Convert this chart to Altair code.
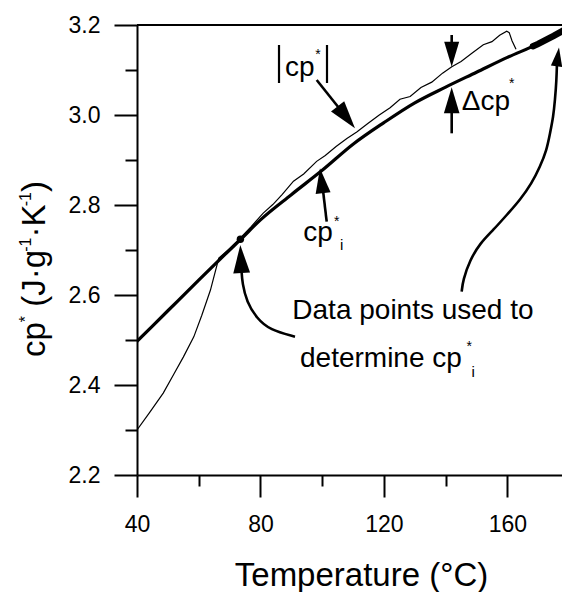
import altair as alt
import pandas as pd

FONT = "Liberation Sans"

# ---- data ----
# fitted / extrapolated cp*_i curve (thick)
fit_T = [40, 50, 60, 70, 73.5, 80, 90, 100, 110, 120, 130, 140, 150, 160, 170, 180]
fit_cp = [2.497, 2.565, 2.633, 2.700, 2.723, 2.767, 2.823, 2.877, 2.935, 2.983,
          3.027, 3.062, 3.095, 3.128, 3.158, 3.195]

# high-temperature data points used for the fit (heavier segment)
hi_T = [168.3, 170, 175, 180]
hi_cp = [3.153, 3.158, 3.176, 3.195]

# low-temperature data point used for the fit (dot)
dot_T = [73.5]
dot_cp = [2.724]

# measured |cp*| curve (thin)
meas_T = [40, 44, 48.5, 52, 55, 58.4, 61, 63.8, 66.5, 70, 73.5, 77, 80.9, 84, 87,
          90.7, 94, 98.2, 101, 104.5, 108, 111.2, 115, 118.5, 122, 125.2, 128.5,
          132, 135.5, 139, 142, 145, 148.5, 152.2, 155, 157.5, 159.8, 160.6,
          161.5, 162.8]
meas_cp = [2.300, 2.338, 2.382, 2.425, 2.462, 2.507, 2.555, 2.611, 2.682, 2.703,
           2.727, 2.752, 2.782, 2.801, 2.823, 2.853, 2.869, 2.897, 2.910, 2.930,
           2.948, 2.962, 2.982, 3.000, 3.016, 3.035, 3.041, 3.061, 3.073, 3.093,
           3.107, 3.119, 3.137, 3.156, 3.163, 3.177, 3.186, 3.183, 3.165, 3.146]

# arrow shafts (id, T, cp) in drawing order
arrow_id = (["A"] * 2 + ["B"] * 2 + ["C"] * 2 + ["D"] * 2 + ["E"] * 6 + ["F"] * 15)
arrow_T = [98.22, 105.77,
           101.46, 100.1,
           141.96, 141.96,
           141.96, 141.96,
           91.19, 83.09, 78.78, 75.54, 74.12, 73.86,
           145.20, 145.62, 147.89, 151.13, 155.44, 159.78, 164.09, 167.88,
           170.57, 172.74, 173.81, 174.88, 175.43, 175.92, 176.08]
arrow_cp = [3.0778, 3.0127,
            2.7629, 2.8422,
            3.1778, 3.1444,
            2.9593, 3.0222,
            2.5073, 2.5222, 2.5482, 2.5851, 2.626, 2.6556,
            2.6073, 2.6333, 2.6778, 2.7149, 2.7444, 2.7778, 2.8111, 2.8482,
            2.8851, 2.9222, 2.9593, 2.9962, 3.0333, 3.0778, 3.1178]

# arrow heads (tip position, direction in degrees clockwise from up, length px)
head_T = [110.63, 99.29, 141.96, 141.96, 73.47, 176.73]
head_cp = [2.9704, 2.8816, 3.1073, 3.0616, 2.7111, 3.15]
head_angle = [141.6, 352.9, 180, 0, 357.2, 7.4]
head_len = [28, 25, 25, 26, 28, 19]

# vertical bars of |cp*|
bar_T = [86.01, 101.56]
bar_cp_lo = [3.0711, 3.0711]
bar_cp_hi = [3.1556, 3.1556]

# annotation texts (left-aligned, alphabetic baseline)
txt_label = ["cp", "*", "cp", "*", "i", "\u0394cp", "*",
             "Data points used to", "determine cp", "*", "i"]
txt_T = [87.95, 97.77, 93.88, 103.83, 105.77, 145.2, 160.53,
         90.32, 92.81, 146.79, 148.41]
txt_cp = [3.0867, 3.1244, 2.72, 2.7527, 2.70, 3.0111, 3.06,
          2.546, 2.4407, 2.4749, 2.4178]
txt_size = [28, 14, 28, 14, 15, 28, 14, 28, 28, 14, 15]

x_major = [40, 80, 120, 160]
x_minor = [60, 100, 140]
y_major = [2.2, 2.4, 2.6, 2.8, 3.0, 3.2]
y_minor = [2.3, 2.5, 2.7, 2.9, 3.1]

# y-axis title pieces (text, superscript?)
ytitle_parts = [("cp", False), ("*", True), ("(J\u00b7g", False), ("-1", True),
                ("\u00b7K", False), ("-1", True), (")", False)]

# ---- tables ----
fit_df = pd.DataFrame({"T": fit_T, "cp": fit_cp})
hi_df = pd.DataFrame({"T": hi_T, "cp": hi_cp})
dot_df = pd.DataFrame({"T": dot_T, "cp": dot_cp})
meas_df = pd.DataFrame({"T": meas_T, "cp": meas_cp})
arrow_df = pd.DataFrame({"id": arrow_id, "T": arrow_T, "cp": arrow_cp})
arrow_df["ord"] = range(len(arrow_df))
head_df = pd.DataFrame({"T": head_T, "cp": head_cp, "angle": head_angle,
                        "size": [l * l for l in head_len]})
bar_df = pd.DataFrame({"T": bar_T, "cp": bar_cp_lo, "cp2": bar_cp_hi})
txt_df = pd.DataFrame({"T": txt_T, "cp": txt_cp, "label": txt_label, "fs": txt_size})
one_df = pd.DataFrame({"k": [0]})

W, H = 425, 450

xscale = alt.Scale(domain=[40, 177.7], nice=False, zero=False)
yscale = alt.Scale(domain=[2.2, 3.2], nice=False, zero=False)

common = dict(tickWidth=2, tickColor="black", domainColor="black", domainWidth=2,
              grid=False, labelFont=FONT, labelColor="black", labelFontSize=23,
              labelFlush=False, labelOverlap=False)

xaxis = alt.Axis(
    orient="bottom", values=x_major, tickSize=22, format="d",
    labelBaseline="alphabetic", labelPadding=34,
    title="Temperature (\u00b0C)", titleFont=FONT, titleFontSize=33,
    titleFontWeight="normal", titleColor="black",
    titleX=224, titleY=110, titleBaseline="alphabetic", titleAlign="center",
    **common)
yaxis = alt.Axis(
    orient="left", values=y_major, tickSize=23, format=".1f", labelPadding=14,
    title="", **common)
xaxis_minor = alt.Axis(orient="bottom", values=x_minor, tickSize=11, labels=False,
                       domain=False, title="", tickWidth=2, tickColor="black", grid=False)
yaxis_minor = alt.Axis(orient="left", values=y_minor, tickSize=12, labels=False,
                       domain=False, title="", tickWidth=2, tickColor="black", grid=False)

X = alt.X("T:Q", scale=xscale, axis=xaxis)
Y = alt.Y("cp:Q", scale=yscale, axis=yaxis)

fit = alt.Chart(fit_df).mark_line(color="black", strokeWidth=3.2, clip=True,
                                  interpolate="monotone").encode(x=X, y=Y)
hi = alt.Chart(hi_df).mark_line(color="black", strokeWidth=6.5, clip=True,
                                strokeCap="round").encode(x=X, y=Y)
dot = alt.Chart(dot_df).mark_point(filled=True, color="black", opacity=1,
                                   size=55).encode(x=X, y=Y)
meas = alt.Chart(meas_df).mark_line(color="black", strokeWidth=1.2,
                                    clip=True).encode(x=X, y=Y)
arrows = alt.Chart(arrow_df).mark_line(color="black", strokeWidth=2.6,
                                       interpolate="basis").encode(
    x=X, y=Y, detail="id:N", order="ord:Q")
heads = alt.Chart(head_df).mark_point(
    shape="M0,0L0.6,2L-0.6,2Z", filled=True, color="black", opacity=1,
    strokeWidth=0).encode(
    x=X, y=Y,
    angle=alt.Angle("angle:Q", scale=None),
    size=alt.Size("size:Q", scale=None, legend=None))
bars = alt.Chart(bar_df).mark_rule(color="black", strokeWidth=2.2).encode(
    x=X, y=Y, y2="cp2:Q")
texts = alt.Chart(txt_df).mark_text(
    align="left", baseline="alphabetic", font=FONT, color="black").encode(
    x=X, y=Y, text="label:N",
    size=alt.Size("fs:Q", scale=None, legend=None))
top_border = alt.Chart(one_df).mark_rule(color="black", strokeWidth=2).encode(
    x=alt.value(0), x2=alt.value(W), y=alt.value(0))

# rotated y-axis title built from pieces (so super-scripts are small)
title_layers = []
pos = 332.0          # start (bottom) of the title, px from plot top
BIG, SMALL = 33, 16
widths = {"cp": 1.056, "*": 0.389, "(J\u00b7g": 1.667, "-1": 0.889,
          "\u00b7K": 0.945, ")": 0.333}
for i, (t, sup) in enumerate(ytitle_parts):
    fs = SMALL if sup else BIG
    xb = -106 if sup else -92
    if t.startswith("("):
        pos -= 0.278 * BIG
    title_layers.append(
        alt.Chart(one_df).mark_text(
            angle=270, align="left", baseline="alphabetic", font=FONT,
            fontSize=fs, color="black", text=t
        ).encode(x=alt.value(xb), y=alt.value(pos))
    )
    pos -= widths[t] * fs

minor = alt.Chart(fit_df).mark_point(opacity=0, clip=True).encode(
    x=alt.X("T:Q", scale=xscale, axis=xaxis_minor),
    y=alt.Y("cp:Q", scale=yscale, axis=yaxis_minor))

major = alt.layer(meas, fit, hi, dot, arrows, heads, bars, texts, top_border,
                  *title_layers)

chart = alt.layer(major, minor).resolve_axis(
    x="independent", y="independent"
).properties(
    width=W, height=H,
    autosize=alt.AutoSizeParams(type="none"),
    padding={"left": 137, "top": 25, "right": 0, "bottom": 117},
    background="white",
).configure_view(stroke=None)

chart.save("out.html", embed_options={"renderer": "svg", "actions": False})
